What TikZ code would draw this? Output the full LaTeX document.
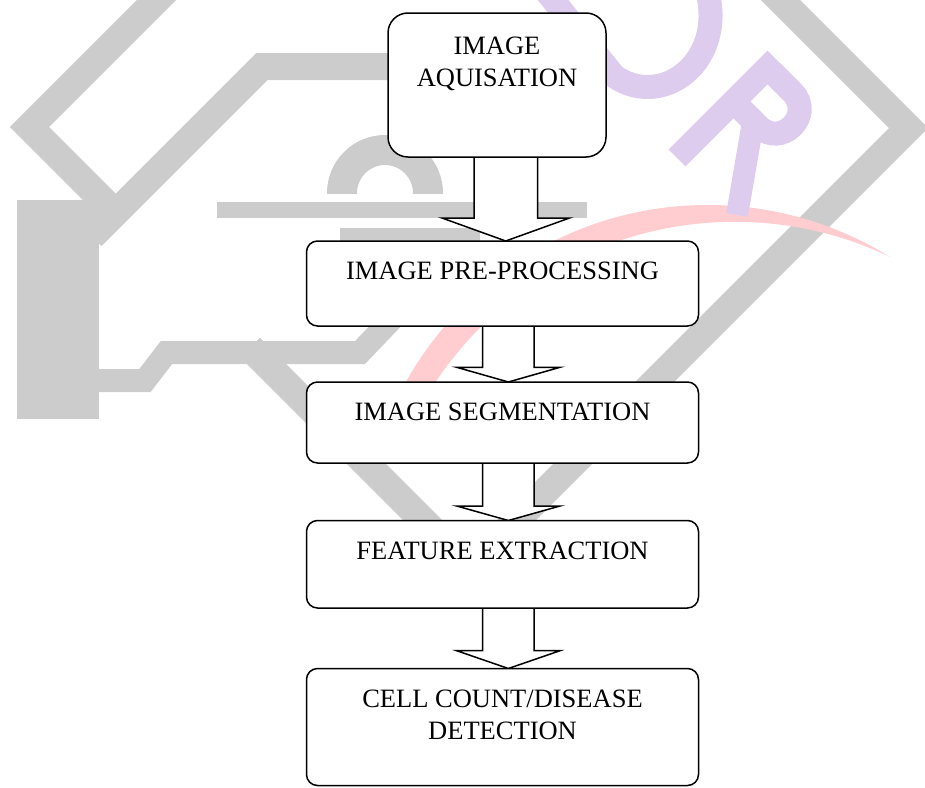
\documentclass[tikz,border=0pt]{standalone}
\usepackage{fontspec}
\setmainfont{Liberation Serif}
\usetikzlibrary{calc}
\pgfdeclarelayer{wm}
\pgfdeclarelayer{arr}
\pgfsetlayers{wm,arr,main}
\definecolor{wmgray}{RGB}{204,204,204}
\definecolor{wmpink}{RGB}{255,205,208}
\definecolor{wmlav}{RGB}{221,204,238}
\begin{document}
\begin{tikzpicture}[x=1pt,y=-1pt,
  box/.style={draw, line width=1.5pt, fill=white, inner sep=0pt, outer sep=0pt},
  lbl/.style={inner sep=0pt, anchor=north, align=center, font=\fontsize{26.5}{31.5}\selectfont},
  barrow/.style={draw, line width=1.5pt, fill=white, line join=miter},
  band/.style={draw=wmgray, line join=miter, line cap=butt},
  letter/.style={draw=wmlav, line join=miter, line cap=butt}]
\useasboundingbox (0,0) rectangle (925,787);

% ---------- boxes ----------
\node[box, rounded corners=20pt, minimum width=218pt, minimum height=144pt] (b1) at (497,85) {};
\node[box, rounded corners=11pt, minimum width=392pt, minimum height=85pt] (b2) at (502.5,283.5) {};
\node[box, rounded corners=11pt, minimum width=392pt, minimum height=81pt] (b3) at (502.5,422.5) {};
\node[box, rounded corners=11pt, minimum width=392pt, minimum height=87.5pt] (b4) at (502.5,564.25) {};
\node[box, rounded corners=11pt, minimum width=392pt, minimum height=117pt] (b5) at (502.5,727) {};

\node[lbl] (t1) at ($(b1.north)+(0,24)$) {IMAGE\\AQUISATION};
\node[lbl] (t2) at ($(b2.north)+(0,21)$) {IMAGE PRE-PROCESSING};
\node[lbl] (t3) at ($(b3.north)+(0,21)$) {IMAGE SEGMENTATION};
\node[lbl] (t4) at ($(b4.north)+(0,21)$) {FEATURE EXTRACTION};
\node[lbl] (t5) at ($(b5.north)+(0,21.5)$) {CELL COUNT/DISEASE\\DETECTION};

% ---------- block arrows ----------
\begin{pgfonlayer}{arr}
\draw[barrow] ($(b1.south)+(-23,0)$) -- (474,218) -- (442,218) -- ($(b2.north)+(3.25,0)$)
  -- (569.5,218) -- (537.5,218) -- ($(b1.south)+(40.5,0)$);
\draw[barrow] ($(b2.south)+(-19.8,0)$) -- (482.7,367.3) -- (456.7,367.3) -- ($(b3.north)+(5.85,0)$)
  -- (560,367.3) -- (534,367.3) -- ($(b2.south)+(31.5,0)$);
\draw[barrow] ($(b3.south)+(-19.8,0)$) -- (482.7,506) -- (456.7,506) -- ($(b4.north)+(5.85,0)$)
  -- (560,506) -- (534,506) -- ($(b3.south)+(31.5,0)$);
\draw[barrow] ($(b4.south)+(-19.8,0)$) -- (482.7,650.7) -- (456.7,650.7) -- ($(b5.north)+(5.85,0)$)
  -- (560,650.7) -- (534,650.7) -- ($(b4.south)+(31.5,0)$);
\end{pgfonlayer}

% ---------- watermark ----------
\begin{pgfonlayer}{wm}
\begin{scope}
\clip (0,0) rectangle (925,787);
% large diamond
\draw[band, line width=27.6pt] (468.5,-312) -- (29.5,127) -- (107,204.5);
\draw[band, line width=27.6pt] (250,347.5) -- (469.5,567) -- (908.5,128) -- (468.5,-312);
% inner outline
\draw[band, line width=27pt] (400,66.5) -- (262,66.5) -- (92,236.5);
\fill[wmgray] (17,200) rectangle (99,419);
\draw[band, line width=23pt] (90,380.5) -- (145,380.5) -- (166.5,352.5) -- (360,352.5) -- (395,316);
% key
\begin{scope}
\clip (300,100) rectangle (460,193);
\fill[wmgray, even odd rule] (385,193) circle[radius=58pt] (385,193) circle[radius=28pt];
\end{scope}
\fill[wmgray] (217,202) rectangle (587,218);
\fill[wmgray] (340,228) rectangle (480,241);
% pink crescent
\begin{scope}
\clip (300,150) rectangle (925,420);
\clip (707.6,550.6) circle[radius=345.6pt];
\fill[wmpink, even odd rule] (250,100) rectangle (975,470) (734.85,581.3) circle[radius=359.5pt];
\end{scope}
% letters
\draw[letter, line width=24pt] (533,-25) -- (614,76) .. controls (665,112) and (735,55) .. (702,-25);
\draw[letter, line width=24pt] (677,158) -- (767.5,67.5) -- (792.3,92.2)
  .. controls (814.9,114.8) and (780.9,148.8) .. (758.3,126.2) -- (733.6,101.4);
\draw[letter, line width=22pt] (752,128) -- (737,215);
\end{scope}
\end{pgfonlayer}
\end{tikzpicture}
\end{document}
